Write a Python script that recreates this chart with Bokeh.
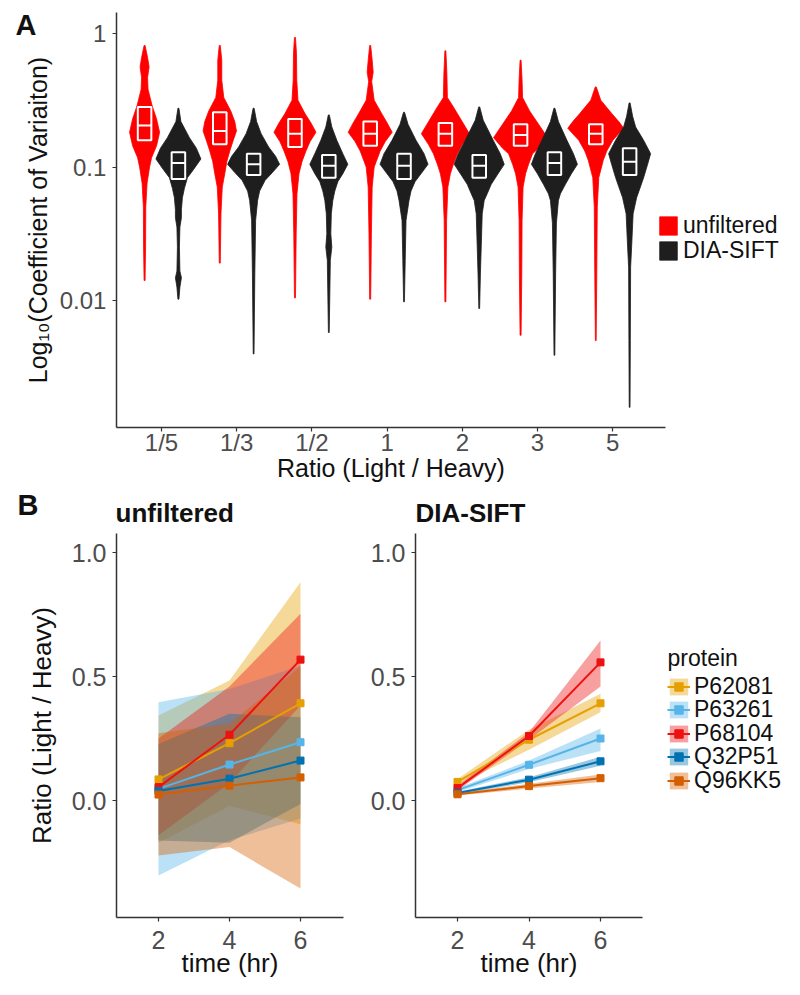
import numpy as np
from bokeh.plotting import figure
from bokeh.models import (FixedTicker, Legend, LegendItem, Label, Range1d, LinearAxis,
                          PrintfTickFormatter, Grid)
from bokeh.embed import file_html
from bokeh.resources import INLINE

FONT = "Liberation Sans"

# ---------------- Panel A data ----------------
ratio_labels = ["1/5", "1/3", "1/2", "1", "2", "3", "5"]
group_names = ["unfiltered", "DIA-SIFT"]

# violin outlines: log10(CV) levels (top -> bottom) and density (half-width) at each level
unf_levels = [
    [-0.09, -0.18, -0.25, -0.33, -0.42, -0.54, -0.64, -0.74, -0.84, -0.93, -1.00, -1.12, -1.30, -1.60, -1.85],
    [-0.09, -0.20, -0.35, -0.48, -0.58, -0.66, -0.73, -0.81, -0.88, -0.96, -1.05, -1.15, -1.35, -1.72],
    [-0.03, -0.15, -0.35, -0.50, -0.60, -0.67, -0.74, -0.81, -0.88, -0.96, -1.05, -1.20, -1.50, -1.98],
    [-0.09, -0.20, -0.29, -0.36, -0.50, -0.60, -0.67, -0.74, -0.81, -0.88, -0.96, -1.00, -1.15, -1.50, -1.99],
    [-0.13, -0.30, -0.48, -0.55, -0.65, -0.75, -0.83, -0.90, -0.98, -1.05, -1.15, -1.40, -2.01],
    [-0.20, -0.35, -0.48, -0.58, -0.68, -0.78, -0.86, -0.90, -0.98, -1.05, -1.15, -1.40, -1.80, -2.26],
    [-0.40, -0.50, -0.60, -0.66, -0.71, -0.80, -0.88, -0.95, -1.08, -1.30, -1.80, -2.30],
]
unf_density = [
    [0.5, 3.0, 4.5, 3.0, 3.5, 7.5, 12.0, 15.0, 12.0, 7.0, 5.0, 2.5, 1.2, 1.0, 0.5],
    [0.5, 2.0, 2.0, 4.0, 11.0, 15.0, 16.7, 13.0, 10.0, 7.0, 5.0, 2.5, 1.2, 0.5],
    [0.5, 1.5, 1.8, 3.0, 10.0, 16.0, 21.0, 15.0, 11.0, 7.0, 4.0, 2.0, 1.2, 0.5],
    [0.5, 2.0, 3.0, 1.5, 4.0, 11.5, 17.0, 22.0, 15.0, 10.0, 6.0, 4.0, 2.0, 1.2, 0.5],
    [0.5, 1.5, 2.0, 8.0, 16.0, 24.0, 17.0, 12.0, 8.0, 5.0, 2.5, 1.2, 0.5],
    [0.5, 1.5, 2.0, 9.0, 18.0, 27.0, 18.0, 12.0, 8.0, 5.0, 2.5, 1.5, 1.2, 0.5],
    [0.5, 5.0, 16.0, 23.0, 28.0, 17.0, 11.0, 7.5, 3.0, 1.5, 1.0, 0.4],
]
dia_levels = [
    [-0.56, -0.66, -0.78, -0.86, -0.94, -1.02, -1.08, -1.16, -1.23, -1.32, -1.38, -1.45, -1.60, -1.78, -1.83, -1.90, -1.99],
    [-0.56, -0.66, -0.75, -0.85, -0.92, -0.98, -1.04, -1.10, -1.18, -1.25, -1.40, -1.80, -2.10, -2.40],
    [-0.61, -0.70, -0.80, -0.90, -0.98, -1.05, -1.11, -1.18, -1.25, -1.35, -1.50, -1.60, -1.70, -1.95, -2.24],
    [-0.59, -0.68, -0.80, -0.90, -0.98, -1.05, -1.11, -1.18, -1.25, -1.40, -1.70, -2.01],
    [-0.55, -0.65, -0.80, -0.90, -0.98, -1.06, -1.13, -1.20, -1.25, -1.35, -1.60, -1.80, -2.06],
    [-0.56, -0.66, -0.80, -0.90, -0.98, -1.05, -1.13, -1.20, -1.25, -1.42, -1.80, -2.41],
    [-0.52, -0.62, -0.70, -0.80, -0.90, -0.98, -1.08, -1.23, -1.35, -1.60, -1.75, -2.30, -2.80],
]
dia_density = [
    [0.5, 2.5, 11.0, 18.0, 22.5, 15.0, 9.0, 6.0, 4.0, 3.0, 3.0, 1.5, 1.0, 1.5, 3.0, 1.5, 0.5],
    [0.5, 3.0, 7.5, 15.0, 22.0, 26.0, 19.0, 11.5, 6.0, 4.0, 2.0, 1.2, 0.8, 0.4],
    [0.5, 3.0, 8.0, 14.0, 19.0, 14.0, 9.0, 6.0, 4.0, 2.5, 2.0, 3.0, 1.5, 1.0, 0.4],
    [0.5, 4.0, 12.0, 20.0, 24.0, 17.0, 11.0, 7.0, 5.0, 2.0, 1.2, 0.4],
    [0.5, 4.0, 14.0, 21.0, 25.0, 18.0, 12.0, 8.0, 5.0, 3.0, 2.0, 1.2, 0.4],
    [0.5, 4.0, 12.5, 19.0, 23.0, 17.0, 11.0, 6.0, 4.0, 2.0, 1.2, 0.4],
    [0.5, 3.0, 6.0, 14.0, 21.0, 18.0, 14.0, 7.0, 3.5, 2.0, 1.0, 0.7, 0.4],
]
# box statistics (log10 CV)
unf_q3 = [-0.55, -0.59, -0.64, -0.66, -0.67, -0.68, -0.68]
unf_median = [-0.69, -0.73, -0.75, -0.75, -0.75, -0.76, -0.75]
unf_q1 = [-0.80, -0.83, -0.85, -0.84, -0.84, -0.84, -0.83]
dia_q3 = [-0.89, -0.90, -0.91, -0.90, -0.91, -0.89, -0.86]
dia_median = [-0.97, -0.98, -0.99, -0.99, -0.99, -0.97, -0.96]
dia_q1 = [-1.09, -1.06, -1.08, -1.09, -1.08, -1.06, -1.06]

# ---------------- Panel B data ----------------
times = [2, 4, 6]
proteins = ["P62081", "P63261", "P68104", "Q32P51", "Q96KK5"]
protein_colors = ["#E69F00", "#56B4E9", "#EE1111", "#0072B2", "#D55E00"]

unf_mean = [
    [0.085, 0.231, 0.392],
    [0.047, 0.145, 0.235],
    [0.054, 0.265, 0.568],
    [0.038, 0.088, 0.161],
    [0.024, 0.060, 0.093],
]
unf_lower = [
    [-0.170, -0.022, -0.096],
    [-0.302, -0.160, -0.073],
    [-0.140, 0.070, 0.383],
    [-0.161, -0.170, -0.014],
    [-0.222, -0.188, -0.355],
]
unf_upper = [
    [0.343, 0.484, 0.880],
    [0.396, 0.450, 0.543],
    [0.250, 0.460, 0.753],
    [0.228, 0.350, 0.336],
    [0.271, 0.310, 0.540],
]
dia_mean = [
    [0.075, 0.245, 0.392],
    [0.042, 0.144, 0.250],
    [0.050, 0.260, 0.557],
    [0.030, 0.084, 0.158],
    [0.025, 0.058, 0.090],
]
dia_lower = [
    [0.063, 0.205, 0.356],
    [0.034, 0.127, 0.200],
    [0.040, 0.245, 0.460],
    [0.025, 0.074, 0.140],
    [0.020, 0.048, 0.075],
]
dia_upper = [
    [0.087, 0.285, 0.430],
    [0.050, 0.161, 0.290],
    [0.060, 0.275, 0.645],
    [0.035, 0.094, 0.176],
    [0.030, 0.068, 0.105],
]

# ---------------- layout (pixels on the canvas) ----------------
W, H = 796, 992
# panel A: category 1 at x=161 px, 75.2 px per category; log10 CV 0 at y=33 px, 133.5 px per decade
A_X0, A_XS, A_Y0, A_YS = 161.0, 75.2, 33.0, 133.5
A_XB, A_YB = (0.40, 7.70), (-2.951, 0.157)
# panel B: ratio 0 at y=800 px, 248 px per unit
B_Y0, B_YS = 800.0, 248.0
B1_X2, B1_XS = 158.0, 35.5
B2_X2, B2_XS = 457.0, 35.75
B1_XB, B2_XB, B_YB = (0.817, 7.211), (0.825, 7.175), (-0.472, 1.077)

p = figure(width=W, height=H, output_backend="svg", toolbar_location=None, title=None,
           x_axis_location=None, y_axis_location=None,
           x_range=Range1d(1 - A_X0 / A_XS, 1 + (W - A_X0) / A_XS),
           y_range=Range1d((A_Y0 - H) / A_YS, A_Y0 / A_YS),
           min_border=0, min_border_left=0, min_border_right=0,
           min_border_top=0, min_border_bottom=0)
p.extra_x_ranges = {
    "b1": Range1d(2 - B1_X2 / B1_XS, 2 + (W - B1_X2) / B1_XS),
    "b2": Range1d(2 - B2_X2 / B2_XS, 2 + (W - B2_X2) / B2_XS),
}
p.extra_y_ranges = {"b": Range1d((B_Y0 - H) / B_YS, B_Y0 / B_YS)}
p.outline_line_color = None
p.background_fill_color = "white"
p.border_fill_color = "white"
for r in list(p.center) + list(p.renderers):
    if isinstance(r, Grid):
        r.visible = False
        r.grid_line_color = None

AXIS_COLOR = "#333333"
TICK_LABEL_COLOR = "#4D4D4D"
TEXT_COLOR = "#111111"


def add_axis(side, xname, yname, loc, bounds, ticks, tick_size, label, label_size,
             label_standoff, title_standoff, overrides=None, formatter=None):
    ax = LinearAxis(x_range_name=xname, y_range_name=yname, fixed_location=loc, bounds=bounds,
                    ticker=FixedTicker(ticks=ticks))
    if overrides:
        ax.major_label_overrides = overrides
    if formatter is not None:
        ax.formatter = formatter
    ax.axis_line_color = AXIS_COLOR
    ax.axis_line_width = 1.5
    ax.major_tick_line_color = AXIS_COLOR
    ax.major_tick_line_width = 1.2
    ax.major_tick_out = 4
    ax.major_tick_in = 0
    ax.minor_tick_line_color = None
    ax.major_label_text_font = FONT
    ax.major_label_text_font_size = tick_size
    ax.major_label_text_color = TICK_LABEL_COLOR
    ax.major_label_standoff = label_standoff
    if label:
        ax.axis_label = label
        ax.axis_label_text_font = FONT
        ax.axis_label_text_font_size = label_size
        ax.axis_label_text_font_style = "normal"
        ax.axis_label_text_color = TEXT_COLOR
        ax.axis_label_standoff = title_standoff
    p.add_layout(ax, side)
    return ax


def text_label(x, y_base, txt, size, bold=True):
    p.add_layout(Label(x=x, y=H - y_base, x_units="screen", y_units="screen", text=txt,
                       text_font=FONT, text_font_size=size, text_color=TEXT_COLOR,
                       text_font_style="bold" if bold else "normal",
                       text_baseline="alphabetic"))


def legend_key(label, renderers, x, glyph_top, gw, gh):
    # one legend entry per Legend so that each key sits exactly where it should
    item_h = 26.5
    p.add_layout(Legend(items=[LegendItem(label=label, renderers=renderers)],
                        location=(x, H - (glyph_top + item_h)),
                        glyph_width=gw, glyph_height=gh, label_height=gh,
                        spacing=0, padding=0, margin=0, label_standoff=4,
                        label_text_font=FONT, label_text_font_size="23px",
                        label_text_color=TEXT_COLOR,
                        border_line_color=None, background_fill_alpha=0))


# ---------------- Panel A ----------------
WIDTH_SCALE = 1.0 / A_XS   # density -> category units
DODGE = 0.225
BOX_HALF = 0.09
group_colors = ["#FF0000", "#1E1E1E"]
violin_renderers = []
for g, (levels_all, dens_all, q3, med, q1) in enumerate([
        (unf_levels, unf_density, unf_q3, unf_median, unf_q1),
        (dia_levels, dia_density, dia_q3, dia_median, dia_q1)]):
    off = -DODGE if g == 0 else DODGE
    xs_list, ys_list = [], []
    for i in range(len(ratio_labels)):
        c = i + 1 + off
        lv = np.array(levels_all[i])
        d = np.array(dens_all[i]) * WIDTH_SCALE
        xs_list.append(list(np.concatenate([c + d, (c - d)[::-1]])))
        ys_list.append(list(np.concatenate([lv, lv[::-1]])))
    r = p.patches(xs_list, ys_list, fill_color=group_colors[g], line_color=group_colors[g],
                  line_width=0.8)
    violin_renderers.append(r)
    centers = [i + 1 + off for i in range(len(ratio_labels))]
    p.quad(left=[c - BOX_HALF for c in centers], right=[c + BOX_HALF for c in centers],
           top=q3, bottom=q1, fill_alpha=0, line_color="white", line_width=2)
    p.segment(x0=[c - BOX_HALF for c in centers], x1=[c + BOX_HALF for c in centers],
              y0=med, y1=med, line_color="white", line_width=2)

add_axis("below", "default", "default", A_YB[0], A_XB, list(range(1, len(ratio_labels) + 1)),
         "24px", "Ratio (Light / Heavy)", "25px", -2, -6,
         overrides={i + 1: lab for i, lab in enumerate(ratio_labels)})
add_axis("left", "default", "default", A_XB[0], A_YB, [-2, -1, 0],
         "24px", "Log\u2081\u2080(Coefficient of Variaiton)", "25px", 6, 5,
         overrides={-2: "0.01", -1: "0.1", 0: "1"})

for k, top in enumerate([212, 237]):
    legend_key(group_names[k], [violin_renderers[k]], 657, top, 22, 23)
text_label(15, 24, "A", "29px")

# ---------------- Panel B ----------------
rendsB2 = []
for xname, x_bounds, mean, lower, upper, title, title_x, ylabel in [
        ("b1", B1_XB, unf_mean, unf_lower, unf_upper, "unfiltered", 115, "Ratio (Light / Heavy)"),
        ("b2", B2_XB, dia_mean, dia_lower, dia_upper, "DIA-SIFT", 415, None)]:
    areas = []
    for k in range(len(proteins)):
        areas.append(p.varea(x=times, y1=lower[k], y2=upper[k], fill_color=protein_colors[k],
                             fill_alpha=0.4, x_range_name=xname, y_range_name="b"))
    rends = []
    for k in range(len(proteins)):
        ln = p.line(x=times, y=mean[k], line_color=protein_colors[k], line_width=2,
                    x_range_name=xname, y_range_name="b")
        pt = p.scatter(x=times, y=mean[k], marker="square", size=7, fill_color=protein_colors[k],
                       line_color=protein_colors[k], x_range_name=xname, y_range_name="b")
        rends.append([areas[k], ln, pt])
    add_axis("below", xname, "b", B_YB[0], x_bounds, times, "25px", "time (hr)", "26px", 9, -4)
    add_axis("left", xname, "b", x_bounds[0], B_YB, [0.0, 0.5, 1.0], "25px", ylabel, "26px", 6, 12,
             formatter=PrintfTickFormatter(format="%.1f"))
    text_label(title_x, 512, title, "26px")
    rendsB2 = rends

text_label(17, 504, "B", "29px")

text_label(667, 657, "protein", "23px", bold=False)
for k in range(len(proteins)):
    legend_key(proteins[k], rendsB2[k], 667, 673 + 23.6 * k, 23, 21)

open("out.html", "w").write(file_html(p, INLINE))
